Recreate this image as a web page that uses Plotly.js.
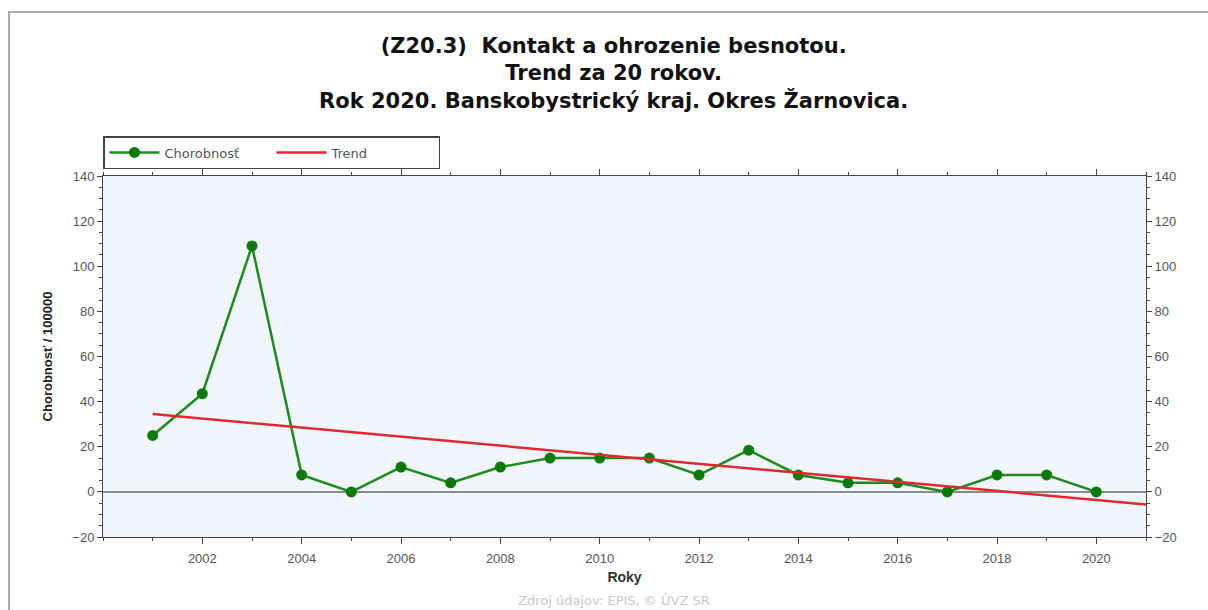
<!DOCTYPE html>
<html>
<head>
<meta charset="utf-8">
<script src="https://cdn.plot.ly/plotly-3.0.1.min.js"></script>
<style>html,body{margin:0;padding:0;background:#fff;}#chart{width:1208px;height:610px;}</style>
</head>
<body>
<div id="chart"></div>
<script>
var years = [2001,2002,2003,2004,2005,2006,2007,2008,2009,2010,2011,2012,2013,2014,2015,2016,2017,2018,2019,2020];
var chorobnost = [25,43.5,109,7.5,0,11,4,11,15,15,15,7.5,18.5,7.5,4,4,0,7.5,7.5,0];
var trendYears = [2001,2021];
var trendValues = [34.5,-5.6];
var xTickVals = [2002,2004,2006,2008,2010,2012,2014,2016,2018,2020];
var titleLines = ["(Z20.3)  Kontakt a ohrozenie besnotou.","Trend za 20 rokov.","Rok 2020. Banskobystrický kraj. Okres Žarnovica."];
var seriesNames = ["Chorobnosť","Trend"];
var xTitle = "Roky";
var yTitle = "Chorobnosť / 100000";
var sourceText = "Zdroj údajov: EPIS, © ÚVZ SR";

var font = "Liberation Sans, Arial, sans-serif";
var wide = "DejaVu Sans, Verdana, sans-serif";

var traces = [
  {x: years, y: chorobnost, name: seriesNames[0], type: 'scatter', mode: 'lines+markers',
   line: {color: '#1e8a1e', width: 2.5}, marker: {color: '#0b7a0b', size: 11}},
  {x: trendYears, y: trendValues, name: seriesNames[1], type: 'scatter', mode: 'lines',
   line: {color: '#e0282e', width: 2.5}}
];

var axisCommon = {
  showline: true, linecolor: '#444', linewidth: 1, showgrid: false,
  ticks: 'outside', ticklen: 5, tickcolor: '#444',
  tickfont: {family: font, size: 13, color: '#555'}
};

var layout = {
  width: 1208, height: 610,
  paper_bgcolor: '#ffffff', plot_bgcolor: '#f1f6fc',
  margin: {l: 103, r: 62, t: 176, b: 73, pad: 0},
  font: {family: font},
  title: {text: '<b>' + titleLines.join('<br>') + '</b>', x: 0.508, xanchor: 'center',
          y: 1 - 53/610, yanchor: 'top', font: {family: wide, size: 21, color: '#111'}},
  showlegend: true,
  legend: {orientation: 'h', x: 0.0, xanchor: 'left', y: (537-169)/361, yanchor: 'bottom',
           bgcolor: '#ffffff', bordercolor: '#444', borderwidth: 1.5,
           font: {family: wide, size: 13, color: '#555'}, itemwidth: 50, entrywidth: 102,
           tracegroupgap: 0},
  xaxis: Object.assign({}, axisCommon, {
    range: [2000, 2021], tickmode: 'array', tickvals: xTickVals, mirror: 'ticks', zeroline: false,
    ticklen: 6, ticklabelstandoff: 3,
    minor: {dtick: 1, tick0: 2000, ticks: 'outside', ticklen: 3, tickcolor: '#444'},
    title: {text: '<b>' + xTitle + '</b>', font: {family: font, size: 14, color: '#333'}, standoff: 7}
  }),
  yaxis: Object.assign({}, axisCommon, {
    range: [-20, 140], tick0: 0, dtick: 20, mirror: true,
    zeroline: true, zerolinecolor: '#8a8a8a', zerolinewidth: 2,
    minor: {dtick: 5, ticks: 'outside', ticklen: 3, tickcolor: '#444'},
    title: {text: '<b>' + yTitle + '</b>', font: {family: font, size: 13, color: '#222'}, standoff: 16}
  }),
  yaxis2: Object.assign({}, axisCommon, {
    range: [-20, 140], tick0: 0, dtick: 20, overlaying: 'y', side: 'right', zeroline: false,
    minor: {dtick: 5, ticks: 'outside', ticklen: 3, tickcolor: '#444'}
  }),
  shapes: [
    {type: 'rect', xref: 'paper', yref: 'paper', x0: (9-103)/1043, x1: 1.1, y0: -0.3, y1: (537-12)/361,
     line: {color: '#aaaaaa', width: 2}, fillcolor: 'rgba(0,0,0,0)', layer: 'below'}
  ],
  annotations: [
    {text: sourceText, xref: 'paper', yref: 'paper', x: (614-103)/1043, y: (537-600)/361,
     xanchor: 'center', yanchor: 'middle', showarrow: false,
     font: {family: wide, size: 13, color: '#c8c8c8'}}
  ]
};

traces.push({x: [2000], y: [0], yaxis: 'y2', showlegend: false, hoverinfo: 'skip',
             mode: 'markers', marker: {opacity: 0}, type: 'scatter'});

Plotly.newPlot('chart', traces, layout, {displayModeBar: false, staticPlot: true});
</script>
</body>
</html>
